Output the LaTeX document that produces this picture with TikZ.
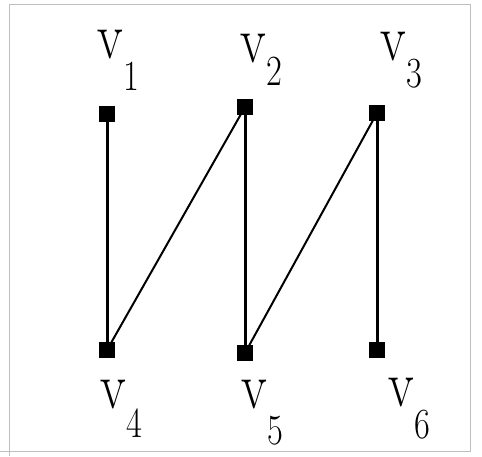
\documentclass[tikz,border=0pt]{standalone}
\usepackage{tikz}
\usetikzlibrary{positioning}

\newcommand{\vname}[2]{\fontsize{66}{66}\selectfont\scalebox{0.8}[1]{v}\hspace{1pt}\raisebox{-#2pt}{\fontsize{43}{43}\selectfont\scalebox{0.8}[1]{#1}}}

\begin{document}
\begin{tikzpicture}[
    x=1pt, y=-1pt,
    vtx/.style={draw, fill=black, minimum size=15pt, inner sep=0pt},
    edg/.style={line width=3pt},
    diag/.style={line width=2pt},
    vlbl/.style={inner sep=0pt, anchor=base west}
]
\useasboundingbox (0,0) rectangle (482,456);
\draw[black!25] (9,456) -- (9,4) -- (470,4) -- (470,451) -- (0,451);

\node[vtx] (v1) at (107,114) {};
\node[vtx] (v2) at (245,107) {};
\node[vtx] (v3) at (377,113) {};
\node[vtx] (v4) at (107,350) {};
\node[vtx] (v5) at (245,353) {};
\node[vtx] (v6) at (377,350) {};

\node[vlbl] (l1) at (97,58) {\vname{1}{32}};
\node[vlbl] (l2) at (240,62) {\vname{2}{23}};
\node[vlbl] (l3) at (380,60) {\vname{3}{27}};
\node[vlbl] (l4) at (100,408) {\vname{4}{29}};
\node[vlbl] (l5) at (241,408) {\vname{5}{36}};
\node[vlbl] (l6) at (388,406) {\vname{6}{32}};

\draw[edg] (v1) -- (v4);
\draw[edg] (v2) -- (v5);
\draw[edg] (v3) -- (v6);
\draw[diag] (v4.center) -- (v2.center);
\draw[diag] (v5.center) -- (v3.center);
\end{tikzpicture}
\end{document}
